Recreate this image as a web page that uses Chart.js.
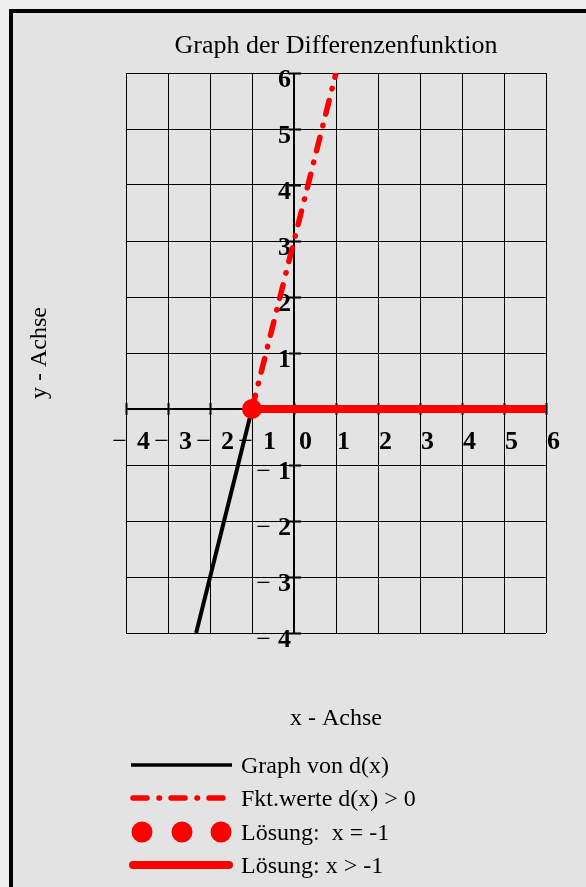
<!DOCTYPE html>
<html>
<head>
<meta charset="utf-8">
<script src="https://cdn.jsdelivr.net/npm/chart.js@4.4.1/dist/chart.umd.min.js"></script>
<style>
  html, body { margin: 0; padding: 0; width: 586px; height: 887px; overflow: hidden; background: #efefef; }
  #frame { position: absolute; left: 9px; top: 9px; width: 620px; height: 920px;
           border-left: 4px solid #000; border-top: 4px solid #000; background: #e3e3e3; }
  #c { position: absolute; left: 0; top: 0; }
</style>
</head>
<body>
<div id="frame"></div>
<canvas id="c" width="586" height="887"></canvas>
<script>
// d(x) = 3x + 3 : Graph der Differenzenfunktion und Lösung von d(x) > 0
const graphX = [-2.33, -1];      // Graph von d(x), unterhalb der x-Achse
const graphY = [-4, 0];
const positiveX = [-1, 1];       // Fkt.werte d(x) > 0
const positiveY = [0, 6];
const rootX = [-1];              // Lösung x = -1
const rootY = [0];
const solutionX = [-1, 6];       // Lösung x > -1
const solutionY = [0, 0];

const xTickValues = [-4, -3, -2, -1, 0, 1, 2, 3, 4, 5, 6];
const xTickLabels = ['−4', '−3', '−2', '−1', '0', '1', '2', '3', '4', '5', '6'];
const yTickValues = [-4, -3, -2, -1, 1, 2, 3, 4, 5, 6];
const yTickLabels = ['−4', '−3', '−2', '−1', '1', '2', '3', '4', '5', '6'];

const titleText = 'Graph der Differenzenfunktion';
const xTitle = 'x - Achse';
const yTitle = 'y - Achse';
const legendLabels = ['Graph von d(x)', 'Fkt.werte d(x) > 0', 'Lösung:  x = -1', 'Lösung: x > -1'];

const SERIF = '"Liberation Serif", "Times New Roman", serif';
const RED = '#ff0000';
const DASHDOT = [14, 12, 0.5, 11.5];

const pts = (xs, ys) => xs.map((v, i) => ({ x: v, y: ys[i] }));

const decorations = {
  id: 'decorations',
  beforeDatasetsDraw(chart) {
    const { ctx, scales: { x, y } } = chart;
    const ax = x.getPixelForValue(0);
    const ay = y.getPixelForValue(0);
    ctx.save();
    ctx.strokeStyle = '#000';
    ctx.lineWidth = 2;
    ctx.beginPath();
    xTickValues.forEach(v => {
      const px = Math.round(x.getPixelForValue(v)) + 0.5;
      ctx.moveTo(px, ay - 6); ctx.lineTo(px, ay + 6);
    });
    [-4, -3, -2, -1, 0, 1, 2, 3, 4, 5, 6].forEach(v => {
      const py = Math.round(y.getPixelForValue(v)) + 0.5;
      ctx.moveTo(ax - 5, py); ctx.lineTo(ax + 7, py);
    });
    ctx.stroke();

    ctx.fillStyle = '#000';
    ctx.textBaseline = 'alphabetic';
    const bold = 'bold 26px ' + SERIF;
    const thin = '26px ' + SERIF;
    // x tick labels
    xTickLabels.forEach((t, i) => {
      const px = x.getPixelForValue(xTickValues[i]);
      const by = ay + 40;
      if (t.startsWith('−')) {
        ctx.font = thin;
        ctx.textAlign = 'right';
        ctx.fillText('−', px + 1, by);
        ctx.font = bold;
        ctx.textAlign = 'left';
        ctx.fillText(t.slice(1), px + 11, by);
      } else {
        ctx.font = bold;
        ctx.textAlign = 'left';
        ctx.fillText(t, px + (xTickValues[i] === 0 ? 5 : 1), by);
      }
    });
    // y tick labels
    yTickLabels.forEach((t, i) => {
      const py = y.getPixelForValue(yTickValues[i]);
      const by = py + 14;
      const digits = t.replace('−', '');
      ctx.font = bold;
      ctx.textAlign = 'right';
      ctx.fillText(digits, ax - 3, by);
      if (t.startsWith('−')) {
        const w = ctx.measureText(digits).width;
        ctx.font = thin;
        ctx.fillText('−', ax - 3 - w - 7, by);
      }
    });
    ctx.restore();
  },
  afterDraw(chart) {
    const { ctx, chartArea } = chart;
    const cx = (chartArea.left + chartArea.right) / 2;
    const cy = (chartArea.top + chartArea.bottom) / 2;
    ctx.save();
    ctx.fillStyle = '#000';
    ctx.textAlign = 'center';
    ctx.textBaseline = 'alphabetic';
    ctx.font = '26px ' + SERIF;
    ctx.fillText(titleText, cx, 53);
    ctx.font = '24px ' + SERIF;
    ctx.fillText(xTitle, cx, 725);
    ctx.save();
    ctx.translate(46, cy);
    ctx.rotate(-Math.PI / 2);
    ctx.fillText(yTitle, 0, 0);
    ctx.restore();

    // legend
    const rows = [765, 798, 832, 865];
    const x0 = 131, x1 = 232;
    ctx.lineCap = 'butt';
    // 1: black solid
    ctx.strokeStyle = '#000'; ctx.lineWidth = 3.5; ctx.setLineDash([]);
    ctx.beginPath(); ctx.moveTo(x0, rows[0]); ctx.lineTo(x1, rows[0]); ctx.stroke();
    // 2: red dash-dot
    ctx.strokeStyle = RED; ctx.lineWidth = 5.5; ctx.lineCap = 'round'; ctx.setLineDash(DASHDOT);
    ctx.beginPath(); ctx.moveTo(x0 + 2, rows[1]); ctx.lineTo(x1, rows[1]); ctx.stroke();
    ctx.setLineDash([]);
    // 3: three dots
    ctx.fillStyle = RED;
    [142, 182, 221].forEach(px => {
      ctx.beginPath(); ctx.arc(px, rows[2], 10.5, 0, Math.PI * 2); ctx.fill();
    });
    // 4: thick red
    ctx.lineWidth = 8; ctx.lineCap = 'round';
    ctx.beginPath(); ctx.moveTo(x0 + 2, rows[3]); ctx.lineTo(x1 - 3, rows[3]); ctx.stroke();

    ctx.fillStyle = '#000';
    ctx.textAlign = 'left';
    ctx.font = '24px ' + SERIF;
    legendLabels.forEach((t, i) => ctx.fillText(t, 241, rows[i] + 8));
    ctx.restore();
  }
};

const gridWidth = ctx => (ctx.tick && ctx.tick.value === 0 ? 2 : 1);

new Chart(document.getElementById('c'), {
  type: 'scatter',
  data: {
    datasets: [
      { label: legendLabels[0], data: pts(graphX, graphY), showLine: true,
        borderColor: '#000', borderWidth: 4, pointRadius: 0, order: 3 },
      { label: legendLabels[1], data: pts(positiveX, positiveY), showLine: true,
        borderColor: RED, borderWidth: 5.5, borderDash: DASHDOT, borderDashOffset: 0,
        borderCapStyle: 'round', pointRadius: 0, order: 2 },
      { label: legendLabels[2], data: pts(rootX, rootY), showLine: false,
        backgroundColor: RED, borderWidth: 0, pointRadius: 10, order: 0 },
      { label: legendLabels[3], data: pts(solutionX, solutionY), showLine: true,
        borderColor: RED, borderWidth: 8, borderCapStyle: 'butt', pointRadius: 0, order: 1 }
    ]
  },
  options: {
    responsive: false,
    animation: false,
    devicePixelRatio: 1,
    layout: { padding: { left: 126, top: 73, right: 40, bottom: 254 } },
    plugins: { legend: { display: false }, tooltip: { enabled: false }, title: { display: false } },
    scales: {
      x: {
        type: 'linear', min: -4, max: 6,
        ticks: { display: false, stepSize: 1 },
        grid: { color: '#000', lineWidth: gridWidth, drawTicks: false },
        border: { display: false }
      },
      y: {
        type: 'linear', min: -4, max: 6,
        ticks: { display: false, stepSize: 1 },
        grid: { color: '#000', lineWidth: gridWidth, drawTicks: false },
        border: { display: false }
      }
    }
  },
  plugins: [decorations]
});
</script>
</body>
</html>
